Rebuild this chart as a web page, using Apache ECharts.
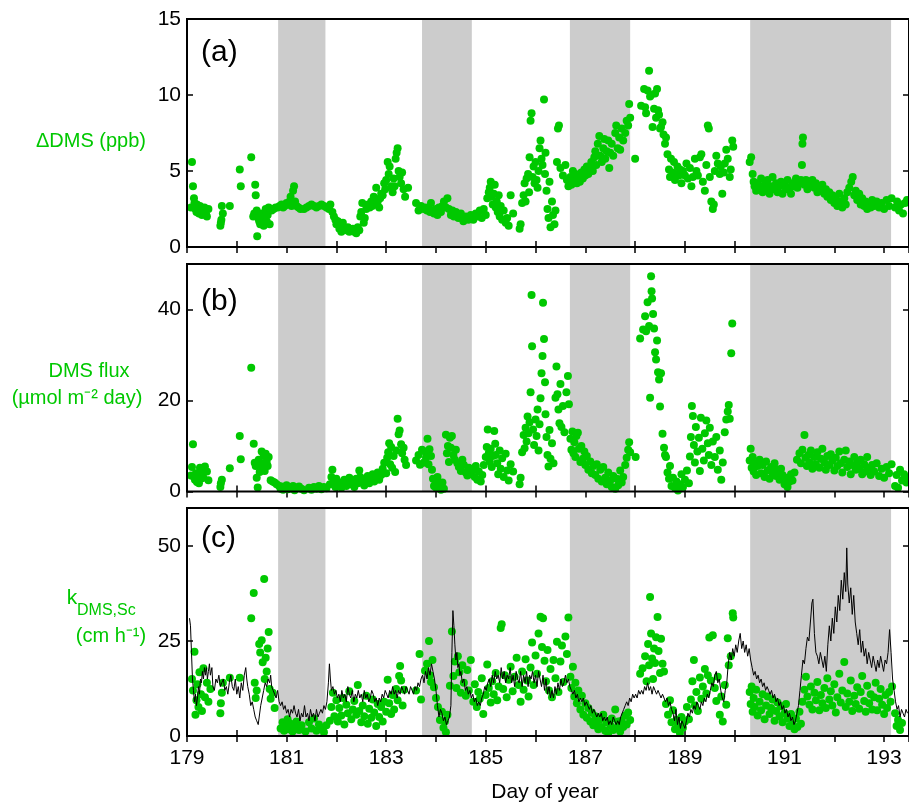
<!DOCTYPE html>
<html>
<head>
<meta charset="utf-8">
<script src="https://cdn.jsdelivr.net/npm/echarts@6/dist/echarts.min.js"></script>
<style>
  html, body { margin: 0; padding: 0; background: #fff; }
  #chart { width: 909px; height: 804px; }
</style>
</head>
<body>
<div id="chart"></div>
<script>
// night periods (grey bands), day of year
var nightBands = [[180.83, 181.78], [183.72, 184.72], [186.69, 187.90], [190.31, 193.14]];

// (a) delta DMS, ppb
var dmsPoints = [
  [179.08,2.6],[179.1,5.6],[179.12,4.0],[179.14,3.2],[179.15,2.9],[179.17,2.5],[179.19,2.3],[179.2,2.8],[179.22,2.6],[179.24,2.2],[179.26,2.7],[179.28,2.5],[179.3,2.1],[179.32,2.4],[179.35,2.6],[179.38,2.2],[179.4,2.0],[179.43,2.5],
  [179.67,1.4],[179.68,1.6],[179.69,1.8],[179.7,2.7],[179.72,2.2],[179.86,2.7],
  [180.06,5.1],[180.08,4.0],[180.29,5.9],
  [180.33,2.0],[180.35,2.2],[180.37,4.1],[180.38,3.4],[180.4,2.4],[180.41,0.7],[180.43,1.9],[180.45,1.7],[180.47,1.5],[180.5,2.2],[180.52,1.8],[180.54,1.4],[180.56,2.0],[180.58,2.5],[180.6,1.7],[180.62,2.1],[180.64,2.6],[180.66,1.5],[180.7,2.4],[180.74,2.5],[180.78,2.6],[180.82,2.6],
  [180.86,2.7],[180.9,2.8],[180.93,2.6],[180.96,2.7],[181.0,2.9],[181.03,2.8],[181.06,3.0],[181.08,3.3],[181.1,2.7],[181.13,3.7],[181.15,4.0],[181.17,3.0],[181.2,2.7],[181.24,2.6],[181.28,2.5],[181.35,2.5],[181.4,2.6],[181.45,2.7],[181.5,2.8],[181.55,2.7],[181.6,2.6],[181.65,2.7],[181.7,2.8],[181.75,2.7],[181.8,2.6],
  [181.85,2.5],[181.88,2.8],[181.92,2.3],[181.95,2.0],[181.98,1.8],[182.0,1.5],[182.03,1.7],[182.06,1.2],[182.08,1.4],[182.1,1.0],[182.13,1.6],[182.16,1.2],[182.2,1.1],[182.23,1.3],[182.26,1.0],[182.3,1.1],[182.33,1.2],[182.36,1.0],[182.4,0.9],[182.43,1.3],[182.46,1.1],[182.48,2.0],[182.5,2.3],[182.52,2.9],[182.55,1.6],[182.57,1.9],[182.6,2.5],[182.64,2.8],[182.67,2.6],[182.7,3.0],[182.72,2.7],[182.75,3.3],[182.78,2.8],[182.8,3.9],[182.83,3.0],[182.86,2.6],[182.88,3.2],[182.9,3.5],[182.93,3.4],[182.96,4.2],[182.98,3.8],[183.0,4.4],[183.03,5.6],[183.05,4.8],[183.07,5.3],[183.1,4.0],[183.13,3.6],[183.15,4.5],[183.17,4.0],[183.19,5.8],[183.21,6.2],[183.23,6.5],[183.25,5.0],[183.27,4.6],[183.3,4.2],[183.32,4.9],[183.35,3.8],[183.38,3.3],[183.44,3.9],
  [183.6,2.9],[183.65,2.4],[183.7,2.7],
  [183.75,2.5],[183.78,2.6],[183.82,2.4],[183.85,2.6],[183.88,2.3],[183.9,2.9],[183.93,2.4],[183.96,2.2],[184.0,2.5],[184.03,2.1],[184.06,2.6],[184.1,2.3],[184.13,2.7],[184.16,3.0],[184.2,2.6],[184.23,3.2],[184.26,2.5],[184.3,2.1],[184.33,2.4],[184.36,2.0],[184.4,2.3],[184.45,1.9],[184.5,2.2],[184.55,1.7],[184.6,2.0],[184.65,1.8],[184.7,2.1],
  [184.75,1.8],[184.8,2.2],[184.84,2.0],[184.88,2.4],[184.92,1.9],[184.96,2.5],[185.0,2.1],[185.03,3.2],[185.06,3.6],[185.08,3.9],[185.1,4.3],[185.12,3.3],[185.14,2.8],[185.16,3.5],[185.18,4.1],[185.2,2.6],[185.22,3.0],[185.24,2.3],[185.26,3.4],[185.28,2.0],[185.3,2.7],[185.33,1.8],[185.36,2.4],[185.4,1.6],[185.43,1.9],[185.46,1.4],[185.5,3.4],[185.55,2.2],
  [185.68,1.2],[185.7,1.5],[185.73,2.9],[185.76,3.4],[185.78,4.2],[185.8,3.0],[185.82,4.5],[185.85,4.8],[185.87,3.6],[185.88,5.9],[185.9,8.3],[185.92,8.8],[185.94,4.6],[185.96,5.3],[185.98,4.2],[186.0,5.6],[186.02,4.4],[186.04,3.9],[186.06,5.0],[186.08,6.5],[186.1,7.0],[186.12,5.8],[186.14,5.4],[186.17,9.7],[186.19,4.8],[186.2,6.2],[186.22,3.7],[186.24,2.5],[186.26,1.9],[186.28,4.3],[186.3,1.3],[186.33,3.0],[186.35,2.1],[186.38,1.5],[186.4,2.4],[186.43,5.6],[186.45,7.8],[186.47,8.0],[186.5,5.2],[186.55,4.7],[186.6,5.4],[186.63,4.4],[186.66,4.0],
  [186.7,4.6],[186.72,4.1],[186.75,5.0],[186.78,4.4],[186.8,4.8],[186.83,4.2],[186.86,4.7],[186.89,4.3],[186.92,4.9],[186.95,4.5],[186.98,5.1],[187.0,4.7],[187.03,5.3],[187.06,4.8],[187.09,5.2],[187.12,5.6],[187.15,5.0],[187.18,5.9],[187.2,6.3],[187.22,5.4],[187.25,6.8],[187.28,7.3],[187.3,6.0],[187.33,5.6],[187.36,6.5],[187.38,7.1],[187.4,5.8],[187.43,6.3],[187.46,7.0],[187.48,5.2],[187.5,6.2],[187.53,6.8],[187.56,6.0],[187.6,7.5],[187.62,8.0],[187.65,6.5],[187.68,7.2],[187.7,6.4],[187.73,7.8],[187.76,7.0],[187.8,7.5],[187.83,8.3],[187.86,8.0],[187.88,9.4],[187.9,8.5],
  [188.0,5.8],[188.12,9.3],[188.18,10.4],[188.2,9.2],[188.22,8.8],[188.25,10.3],[188.28,11.6],[188.3,9.9],[188.32,10.0],[188.35,7.9],[188.38,9.1],[188.4,10.1],[188.42,8.5],[188.44,10.4],[188.46,9.0],[188.48,8.7],[188.5,7.8],[188.52,7.9],[188.55,8.2],[188.57,7.4],[188.6,6.8],[188.62,7.2],[188.65,6.1],[188.68,5.1],[188.7,4.6],[188.72,5.8],[188.75,4.9],[188.78,5.6],[188.8,4.4],[188.82,4.8],[188.85,5.3],[188.88,4.7],[188.9,5.1],[188.93,4.2],[188.96,5.0],[189.0,4.7],[189.03,5.5],[189.06,4.5],[189.1,5.2],[189.13,4.0],[189.16,4.6],[189.2,5.8],[189.23,5.0],[189.26,4.7],[189.3,5.9],[189.33,6.1],[189.36,4.3],[189.4,3.7],[189.43,5.4],[189.46,8.0],[189.48,7.8],[189.5,4.6],[189.53,3.0],[189.56,2.5],[189.58,2.8],[189.6,5.0],[189.63,6.0],[189.66,5.5],[189.7,4.8],[189.72,5.3],[189.75,3.5],[189.78,4.9],[189.8,5.5],[189.83,6.4],[189.86,5.8],[189.9,4.6],[189.92,5.1],[189.95,7.0],[189.97,6.6],
  [190.3,5.6],[190.33,5.9],[190.36,4.8],[190.38,4.3],[190.4,4.0],[190.43,3.7],[190.46,4.2],[190.5,3.9],[190.53,4.5],[190.56,3.6],[190.6,4.1],[190.63,3.8],[190.66,4.4],[190.7,3.5],[190.73,4.0],[190.76,4.6],[190.8,3.8],[190.83,4.2],[190.86,3.6],[190.9,4.0],[190.93,4.3],[190.96,3.5],[191.0,4.1],[191.03,3.8],[191.06,4.4],[191.1,3.9],[191.13,3.5],[191.16,4.2],[191.2,4.0],[191.23,4.5],[191.26,3.9],[191.3,4.2],[191.33,4.4],[191.35,5.4],[191.36,6.8],[191.37,7.2],[191.4,4.1],[191.43,4.4],[191.46,3.8],[191.5,4.3],[191.53,4.0],[191.56,4.4],[191.6,3.9],[191.63,4.2],[191.66,3.6],[191.7,4.0],[191.73,3.7],[191.76,4.1],[191.8,3.5],[191.83,3.8],[191.86,3.3],[191.9,3.6],[191.93,3.1],[191.96,3.4],[192.0,2.9],[192.03,3.3],[192.06,2.7],[192.1,3.5],[192.13,3.0],[192.16,2.6],[192.2,3.2],[192.23,2.8],[192.26,3.6],[192.3,3.9],[192.34,4.3],[192.37,4.6],[192.4,3.4],[192.43,3.7],[192.46,3.1],[192.5,3.5],[192.53,2.8],[192.56,3.2],[192.6,2.7],[192.63,3.0],[192.66,2.5],[192.7,2.9],[192.73,2.6],[192.76,3.1],[192.8,2.7],[192.85,3.0],[192.9,2.6],[192.95,2.9],[193.0,2.5],[193.05,3.1],[193.1,2.7],[193.15,3.2],
  [193.22,2.6],[193.26,3.0],[193.3,2.4],[193.34,2.8],[193.38,2.2],[193.42,2.9],[193.46,3.1]
];

// (b) DMS flux, umol m-2 day-1
var fluxPoints = [
  [179.08,3.5],[179.1,5.4],[179.12,10.4],[179.14,3.2],[179.16,2.6],[179.18,4.0],[179.2,2.1],[179.22,3.6],[179.24,1.8],[179.26,5.2],[179.28,2.8],[179.3,4.6],[179.33,3.0],[179.36,5.5],[179.4,4.4],[179.43,2.5],
  [179.67,1.0],[179.68,1.8],[179.7,2.6],[179.86,5.1],
  [180.06,12.2],[180.08,7.1],[180.29,27.2],[180.34,10.5],
  [180.36,6.3],[180.38,5.6],[180.4,3.0],[180.42,0.9],[180.44,7.0],[180.46,4.3],[180.48,6.2],[180.5,8.8],[180.52,5.0],[180.54,7.8],[180.56,4.5],[180.58,8.3],[180.6,6.5],[180.62,5.6],[180.64,7.6],[180.68,2.5],[180.72,2.2],[180.76,2.0],[180.8,1.6],
  [180.85,1.2],[180.88,0.6],[180.9,1.1],[180.93,0.4],[180.96,0.9],[181.0,1.4],[181.03,0.5],[181.06,1.0],[181.1,0.7],[181.13,1.2],[181.16,0.3],[181.2,0.8],[181.25,1.1],[181.3,0.6],[181.35,0.3],[181.45,0.8],[181.5,0.4],[181.55,1.0],[181.6,0.6],[181.65,1.2],[181.7,0.5],[181.75,1.0],[181.8,0.7],
  [181.87,1.6],[181.9,3.2],[181.92,4.8],[181.95,2.2],[181.98,1.0],[182.0,2.8],[182.03,1.5],[182.06,2.0],[182.1,0.8],[182.13,1.8],[182.16,2.6],[182.2,1.2],[182.23,2.2],[182.26,3.0],[182.3,1.6],[182.33,2.4],[182.36,1.0],[182.4,2.8],[182.43,1.8],[182.46,4.6],[182.48,3.2],[182.5,2.0],[182.53,2.6],[182.56,1.3],[182.6,2.4],[182.63,3.4],[182.66,1.8],[182.7,2.8],[182.73,3.8],[182.76,2.2],[182.8,3.4],[182.83,4.2],[182.86,2.6],[182.9,3.6],[182.93,5.0],[182.96,6.3],[183.0,4.0],[183.02,7.4],[183.04,8.6],[183.06,10.6],[183.08,6.0],[183.1,9.8],[183.12,5.2],[183.15,7.8],[183.18,4.3],[183.2,9.0],[183.23,16.0],[183.25,12.6],[183.27,13.4],[183.3,10.4],[183.32,8.4],[183.35,9.6],[183.37,7.0],[183.4,5.8],
  [183.6,6.8],[183.65,8.0],[183.68,5.9],[183.72,9.2],
  [183.75,6.3],[183.78,8.8],[183.8,7.4],[183.83,11.6],[183.85,6.0],[183.87,9.3],[183.9,7.8],[183.92,4.8],[183.94,2.8],[183.96,1.2],[183.98,2.6],[184.0,0.9],[184.03,3.2],[184.06,1.8],[184.1,0.4],[184.13,2.0],[184.16,0.6],[184.2,12.5],[184.22,8.4],[184.24,10.0],[184.26,6.5],[184.28,11.8],[184.3,9.6],[184.32,12.2],[184.35,8.0],[184.38,7.0],[184.4,9.2],[184.43,6.2],[184.46,5.4],[184.5,4.5],[184.53,7.0],[184.56,5.8],[184.6,4.2],[184.63,3.5],[184.66,5.2],[184.7,3.8],
  [184.75,4.8],[184.78,3.2],[184.8,5.6],[184.83,2.6],[184.86,4.4],[184.9,2.2],[184.93,3.6],[184.96,5.8],[185.0,7.6],[185.02,9.8],[185.04,13.6],[185.06,8.4],[185.08,6.6],[185.1,9.4],[185.12,5.4],[185.14,7.8],[185.17,13.3],[185.19,10.5],[185.2,8.0],[185.23,6.2],[185.25,3.8],[185.28,9.0],[185.3,5.0],[185.33,7.3],[185.36,3.2],[185.4,8.3],[185.43,4.6],[185.46,2.4],[185.5,6.0],[185.55,4.4],
  [185.68,1.6],[185.7,3.0],[185.73,8.6],[185.76,12.4],[185.78,9.5],[185.8,14.0],[185.82,11.0],[185.84,16.5],[185.86,12.8],[185.88,15.2],[185.9,21.8],[185.92,43.2],[185.93,31.9],[185.95,13.6],[185.97,10.2],[186.0,15.8],[186.02,12.2],[186.04,18.0],[186.06,9.0],[186.08,14.8],[186.1,20.5],[186.12,26.0],[186.14,29.8],[186.15,41.5],[186.17,33.5],[186.19,24.0],[186.2,17.0],[186.22,12.0],[186.24,8.0],[186.26,5.5],[186.28,13.5],[186.3,7.2],[186.33,10.6],[186.36,6.2],[186.4,20.6],[186.42,27.5],[186.44,21.4],[186.46,18.0],[186.48,15.0],[186.5,23.6],[186.52,14.2],[186.55,18.8],[186.58,13.0],[186.62,21.8],[186.65,25.4],[186.67,19.2],
  [186.7,11.6],[186.72,9.2],[186.74,13.2],[186.76,8.4],[186.78,10.8],[186.8,7.6],[186.82,12.2],[186.85,12.9],[186.87,9.4],[186.9,6.5],[186.92,10.0],[186.95,7.2],[186.98,8.8],[187.0,5.8],[187.03,7.8],[187.06,4.8],[187.1,6.6],[187.13,4.0],[187.16,5.6],[187.2,3.6],[187.23,6.0],[187.26,2.8],[187.3,4.8],[187.33,2.2],[187.36,5.4],[187.4,3.0],[187.43,1.6],[187.46,4.2],[187.5,2.4],[187.53,1.0],[187.56,3.4],[187.6,0.6],[187.63,2.8],[187.66,1.4],[187.7,4.6],[187.73,2.0],[187.76,3.2],[187.8,5.8],[187.83,7.4],[187.86,9.2],[187.88,10.8],[187.9,8.6],
  [188.01,7.6],[188.1,33.6],[188.16,35.6],[188.2,38.5],[188.22,35.2],[188.25,41.6],[188.28,36.4],[188.3,20.6],[188.32,47.3],[188.33,44.0],[188.34,42.4],[188.36,39.0],[188.38,35.8],[188.4,30.6],[188.42,29.0],[188.44,33.2],[188.46,26.2],[188.48,24.6],[188.5,18.7],[188.52,26.0],[188.55,12.7],[188.58,9.6],[188.6,8.0],[188.62,7.6],[188.65,4.2],[188.68,2.8],[188.7,5.6],[188.73,1.2],[188.76,3.0],[188.8,0.8],[188.83,2.2],[188.86,0.2],[188.9,1.6],[188.93,3.8],[188.96,1.0],[189.0,2.6],[189.04,4.6],[189.08,1.8],[189.1,7.7],[189.12,12.0],[189.14,18.8],[189.16,16.6],[189.18,10.2],[189.2,6.4],[189.22,14.2],[189.25,8.8],[189.28,11.8],[189.3,4.5],[189.32,16.2],[189.35,9.4],[189.38,6.8],[189.4,12.8],[189.43,15.6],[189.46,10.6],[189.48,8.0],[189.5,14.0],[189.53,5.8],[189.56,11.0],[189.6,7.6],[189.63,12.0],[189.66,4.8],[189.7,9.0],[189.73,2.6],[189.76,6.4],[189.8,13.0],[189.83,15.8],[189.86,17.6],[189.88,19.0],[189.9,16.0],[189.93,30.4],[189.95,36.9],
  [190.3,6.8],[190.32,9.4],[190.34,5.2],[190.36,7.6],[190.38,4.4],[190.4,6.2],[190.43,3.6],[190.46,5.6],[190.5,7.0],[190.53,4.0],[190.56,5.8],[190.6,3.2],[190.63,6.6],[190.66,4.6],[190.7,2.8],[190.73,5.4],[190.76,4.0],[190.8,6.2],[190.83,3.4],[190.86,4.8],[190.9,2.6],[190.93,5.0],[190.96,3.6],[191.0,1.6],[191.03,3.0],[191.06,1.0],[191.1,2.2],[191.13,3.8],[191.16,2.4],[191.2,4.2],[191.25,7.0],[191.3,8.4],[191.33,6.2],[191.36,9.2],[191.4,12.4],[191.42,7.4],[191.45,5.6],[191.48,8.0],[191.5,6.4],[191.53,9.0],[191.56,5.0],[191.6,7.6],[191.63,6.0],[191.66,8.6],[191.7,5.2],[191.73,7.2],[191.76,9.4],[191.8,6.4],[191.83,4.8],[191.86,7.8],[191.9,5.8],[191.93,8.2],[191.96,6.8],[192.0,4.6],[192.03,7.4],[192.06,5.6],[192.1,8.8],[192.13,6.2],[192.16,4.2],[192.2,7.0],[192.23,9.0],[192.26,5.4],[192.3,6.6],[192.33,3.8],[192.36,5.8],[192.4,7.6],[192.43,4.8],[192.46,6.4],[192.5,5.0],[192.53,7.0],[192.56,3.8],[192.6,6.0],[192.63,4.4],[192.66,7.6],[192.7,5.2],[192.73,3.6],[192.76,5.8],[192.8,4.4],[192.85,6.2],[192.9,3.4],[192.95,5.0],[193.0,3.0],[193.05,5.4],[193.1,4.0],[193.15,6.0],
  [193.22,1.2],[193.25,3.6],[193.28,0.8],[193.32,4.8],[193.36,2.4],[193.4,3.8],[193.45,2.0],[193.48,3.0]
];

// (c) k DMS from DMS measurements (points), cm h-1
var kPoints = [
  [179.1,15.0],[179.12,12.0],[179.15,22.2],[179.17,5.6],[179.19,9.4],[179.21,13.6],[179.23,7.6],[179.25,16.8],[179.28,11.0],[179.3,6.6],[179.33,17.8],[179.36,10.2],[179.4,14.0],[179.43,9.0],[179.47,12.4],
  [179.67,6.0],[179.68,8.6],[179.7,11.4],[179.72,14.0],[179.86,15.3],
  [180.06,15.3],[180.29,31.0],[180.34,37.6],[180.36,14.0],[180.38,10.0],[180.4,12.0],[180.45,24.2],[180.47,22.0],[180.5,25.2],[180.52,19.4],[180.55,41.3],[180.56,15.0],[180.58,20.6],[180.6,17.0],[180.62,23.0],[180.64,27.4],[180.66,12.4],[180.68,9.8],[180.72,11.4],[180.76,7.4],
  [180.88,2.0],[180.92,3.6],[180.95,1.4],[180.98,2.6],[181.02,4.4],[181.05,1.8],[181.08,3.2],[181.12,1.2],[181.15,2.6],[181.2,3.8],[181.25,1.6],[181.3,2.8],[181.38,1.2],[181.45,3.6],[181.5,2.0],[181.55,4.6],[181.6,1.4],[181.65,3.0],[181.7,2.2],[181.75,1.0],[181.8,2.8],
  [181.87,4.0],[181.9,7.6],[181.93,11.4],[181.96,5.2],[182.0,9.4],[182.03,3.8],[182.06,7.4],[182.1,5.4],[182.13,10.0],[182.16,3.0],[182.2,8.2],[182.23,6.0],[182.26,11.8],[182.3,4.4],[182.33,7.0],[182.36,9.2],[182.4,5.6],[182.43,13.4],[182.46,6.6],[182.5,3.6],[182.53,8.0],[182.56,5.2],[182.6,10.6],[182.63,3.2],[182.66,7.2],[182.7,4.8],[182.73,9.6],[182.76,6.2],[182.8,2.6],[182.83,8.4],[182.86,5.0],[182.9,7.6],[182.93,3.8],[182.96,9.0],[183.0,6.4],[183.03,14.8],[183.06,8.6],[183.1,5.8],[183.13,10.8],[183.16,7.0],[183.2,12.4],[183.23,9.4],[183.26,15.8],[183.28,18.4],[183.3,14.6],[183.33,8.0],[183.36,12.2],
  [183.6,12.0],[183.67,21.6],[183.7,9.6],
  [183.78,17.2],[183.82,19.0],[183.86,25.0],[183.88,16.0],[183.9,14.2],[183.93,20.0],[183.96,12.8],[184.0,10.0],[184.04,7.6],[184.08,4.2],[184.12,6.4],[184.15,2.2],[184.18,3.8],[184.2,1.0],[184.23,5.6],[184.28,13.2],[184.32,27.5],[184.35,15.8],[184.38,19.6],[184.41,12.6],[184.44,21.0],[184.47,16.8],[184.5,11.4],[184.53,18.6],[184.56,14.0],[184.6,10.6],[184.63,17.4],[184.66,12.0],[184.7,20.0],
  [184.75,9.0],[184.78,13.6],[184.82,7.6],[184.85,11.6],[184.88,9.8],[184.92,15.2],[184.95,5.8],[185.0,10.8],[185.03,18.8],[185.06,12.6],[185.1,8.8],[185.13,14.4],[185.16,11.0],[185.2,16.6],[185.23,9.4],[185.26,13.0],[185.3,28.4],[185.32,29.4],[185.35,12.4],[185.38,16.0],[185.42,10.2],[185.46,14.8],[185.5,18.2],[185.54,11.8],[185.58,15.6],[185.62,20.6],[185.66,13.4],
  [185.7,9.0],[185.73,17.0],[185.76,12.2],[185.8,20.2],[185.83,14.6],[185.86,10.4],[185.9,18.0],[185.93,24.6],[185.96,13.4],[186.0,21.2],[186.03,16.4],[186.06,27.0],[186.1,31.4],[186.13,23.4],[186.15,31.0],[186.18,19.8],[186.21,14.4],[186.24,22.6],[186.27,12.0],[186.3,17.6],[186.33,10.2],[186.36,20.0],[186.4,15.2],[186.43,24.8],[186.46,11.6],[186.5,19.6],[186.53,23.8],[186.56,14.2],[186.6,26.2],[186.63,21.6],[186.66,31.2],
  [186.7,15.6],[186.72,12.6],[186.75,18.2],[186.78,10.4],[186.8,14.0],[186.83,8.6],[186.86,12.0],[186.9,7.0],[186.93,10.6],[186.96,5.6],[187.0,8.6],[187.03,4.8],[187.06,7.4],[187.1,3.8],[187.13,6.2],[187.16,2.8],[187.2,5.2],[187.23,3.4],[187.26,1.8],[187.3,4.4],[187.33,2.4],[187.36,5.6],[187.4,1.4],[187.43,3.6],[187.46,0.8],[187.5,2.8],[187.53,4.6],[187.56,1.6],[187.6,7.0],[187.63,2.2],[187.66,3.8],[187.7,1.2],[187.73,4.0],[187.76,2.4],[187.8,5.4],[187.83,3.0],[187.86,6.2],[187.9,4.2],
  [188.1,16.4],[188.15,17.8],[188.2,21.0],[188.23,14.4],[188.26,24.2],[188.28,18.6],[188.3,36.6],[188.32,27.0],[188.34,20.4],[188.36,15.0],[188.38,23.0],[188.4,19.2],[188.42,26.0],[188.45,31.3],[188.47,22.4],[188.5,16.6],[188.52,25.6],[188.55,19.0],[188.58,17.0],[188.62,8.4],[188.66,5.6],[188.7,9.4],[188.73,3.6],[188.76,6.8],[188.8,1.8],[188.83,4.2],[188.86,2.6],[188.9,0.8],[188.93,5.0],[188.96,2.2],[189.0,3.8],[189.04,7.6],[189.08,4.4],[189.12,9.6],[189.15,14.4],[189.18,20.0],[189.2,8.0],[189.23,11.6],[189.26,6.6],[189.3,15.4],[189.33,9.8],[189.36,13.0],[189.4,17.6],[189.43,11.2],[189.46,16.0],[189.49,25.9],[189.52,14.6],[189.56,26.5],[189.6,12.6],[189.63,9.2],[189.66,15.6],[189.7,5.6],[189.73,10.4],[189.76,3.8],[189.8,13.4],[189.83,8.2],[189.86,25.7],[189.88,18.6],[189.92,21.0],[189.96,32.3],[189.97,31.2],
  [190.3,11.6],[190.32,8.4],[190.34,13.0],[190.36,6.4],[190.38,10.0],[190.4,7.6],[190.43,12.2],[190.46,5.4],[190.5,9.0],[190.53,6.8],[190.56,11.0],[190.6,4.4],[190.63,8.0],[190.66,10.4],[190.7,5.8],[190.73,7.4],[190.76,9.6],[190.8,4.0],[190.83,6.6],[190.86,8.8],[190.9,5.2],[190.93,7.8],[190.96,3.6],[191.0,6.0],[191.03,8.4],[191.06,4.6],[191.1,2.6],[191.13,5.8],[191.16,3.0],[191.2,1.8],[191.23,4.6],[191.26,2.4],[191.3,6.4],[191.33,3.2],[191.36,9.0],[191.4,12.2],[191.43,15.6],[191.46,10.4],[191.5,8.2],[191.53,13.0],[191.56,7.0],[191.6,11.4],[191.63,9.4],[191.66,14.2],[191.7,6.8],[191.73,10.8],[191.76,8.6],[191.8,12.6],[191.83,7.4],[191.86,15.2],[191.9,9.6],[191.93,11.8],[191.96,8.0],[192.0,13.6],[192.03,6.2],[192.06,10.2],[192.1,16.4],[192.13,8.8],[192.16,12.0],[192.2,19.5],[192.23,7.6],[192.26,11.2],[192.3,9.0],[192.33,14.6],[192.36,6.6],[192.4,10.6],[192.43,8.4],[192.46,12.8],[192.5,7.2],[192.53,11.6],[192.56,15.8],[192.6,9.2],[192.63,6.4],[192.66,13.2],[192.7,8.6],[192.73,11.0],[192.76,7.0],[192.8,10.2],[192.83,14.0],[192.86,6.8],[192.9,9.8],[192.93,12.4],[192.96,8.2],[193.0,5.8],[193.03,10.8],[193.06,7.4],[193.1,11.6],[193.13,9.0],[193.16,13.0],
  [193.22,6.0],[193.25,2.6],[193.28,4.2],[193.32,1.6],[193.36,3.4]
];

// (c) k DMS from wind parameterisation (black line)
var kLine = [
  [179.05,31],[179.07,29],[179.09,22],[179.11,15],[179.13,12],[179.15,9],[179.17,11],[179.19,8],[179.21,10],[179.23,13],[179.25,11],[179.27,15],[179.29,14],[179.31,17],[179.33,15],[179.35,18],[179.37,16],[179.39,18],[179.41,15],[179.43,17],[179.45,19],[179.47,16],[179.5,18],[179.52,13],[179.55,12],[179.58,15],[179.61,14],[179.64,16],[179.67,13],[179.7,14],[179.73,15],[179.76,12],[179.79,13],[179.82,11],[179.85,14],[179.88,16],[179.91,13],[179.94,12],[179.97,15],
  [180.0,11],[180.03,13],[180.06,10],[180.09,14],[180.12,12],[180.15,16],[180.18,18],[180.2,15],[180.22,13],[180.25,11],[180.28,8],[180.31,9],[180.34,7],[180.37,5],[180.4,4],[180.43,3],[180.45,5],[180.48,8],[180.51,10],[180.54,12],[180.57,14],[180.6,13],[180.63,15],[180.66,14],[180.68,16],[180.7,13],[180.73,12],[180.76,11],[180.79,10],[180.82,12],[180.85,9],[180.88,8],[180.91,9],[180.94,7],[180.97,8],
  [181.0,6],[181.03,7],[181.06,5],[181.09,7],[181.12,6],[181.15,8],[181.18,6],[181.21,5],[181.24,7],[181.27,4],[181.3,6],[181.33,5],[181.36,8],[181.39,5],[181.42,6],[181.45,4],[181.48,7],[181.51,5],[181.54,6],[181.57,4],[181.6,7],[181.63,5],[181.66,6],[181.69,7],[181.72,6],[181.75,8],[181.78,7],[181.81,9],[181.84,14],[181.86,19],[181.88,15],[181.9,12],[181.93,13],[181.96,11],[181.99,12],
  [182.02,10],[182.05,11],[182.08,9],[182.11,12],[182.14,10],[182.17,11],[182.2,9],[182.23,13],[182.26,11],[182.29,10],[182.32,12],[182.35,9],[182.38,11],[182.41,10],[182.44,12],[182.47,10],[182.5,11],[182.53,9],[182.56,12],[182.59,10],[182.62,11],[182.65,9],[182.68,10],[182.71,12],[182.74,11],[182.77,9],[182.8,10],[182.83,8],[182.86,10],[182.89,9],[182.92,11],[182.95,10],[182.98,12],
  [183.01,11],[183.04,10],[183.07,12],[183.1,11],[183.13,13],[183.16,11],[183.19,12],[183.22,10],[183.25,12],[183.28,11],[183.31,13],[183.34,12],[183.37,11],[183.4,13],[183.43,12],[183.46,11],[183.49,13],[183.52,12],[183.55,11],[183.58,13],[183.61,12],[183.64,14],[183.67,13],[183.7,15],[183.73,16],[183.76,14],[183.79,17],[183.82,15],[183.85,18],[183.88,16],[183.91,19],[183.94,17],[183.97,15],
  [184.0,12],[184.03,8],[184.06,5],[184.09,7],[184.12,6],[184.15,4],[184.18,5],[184.21,3],[184.24,4],[184.27,5],[184.3,8],[184.32,22],[184.34,33],[184.36,29],[184.38,24],[184.4,20],[184.42,22],[184.44,18],[184.46,19],[184.48,16],[184.5,17],[184.53,14],[184.56,15],[184.59,12],[184.62,13],[184.65,11],[184.68,12],[184.71,10],[184.74,11],[184.77,9],[184.8,10],[184.83,8],[184.86,9],[184.89,8],[184.92,10],[184.95,11],[184.98,13],
  [185.01,12],[185.04,14],[185.07,15],[185.1,13],[185.13,16],[185.16,14],[185.19,17],[185.22,15],[185.25,16],[185.28,14],[185.31,18],[185.34,15],[185.37,17],[185.4,14],[185.43,16],[185.46,15],[185.49,18],[185.52,14],[185.55,16],[185.58,13],[185.61,17],[185.64,15],[185.67,14],[185.7,17],[185.73,13],[185.76,16],[185.79,14],[185.82,17],[185.85,13],[185.88,16],[185.91,15],[185.94,17],[185.97,14],
  [186.0,16],[186.03,13],[186.06,17],[186.09,15],[186.12,13],[186.15,16],[186.18,12],[186.21,15],[186.24,11],[186.27,13],[186.3,10],[186.33,12],[186.36,10],[186.39,13],[186.42,11],[186.45,14],[186.48,12],[186.51,15],[186.54,13],[186.57,14],[186.6,16],[186.63,14],[186.66,15],[186.69,13],[186.72,12],[186.75,11],[186.78,12],[186.81,10],[186.84,11],[186.87,9],[186.9,10],[186.93,9],[186.96,10],[186.99,8],
  [187.02,9],[187.05,8],[187.08,7],[187.11,8],[187.14,6],[187.17,7],[187.2,6],[187.23,5],[187.26,6],[187.29,5],[187.32,6],[187.35,4],[187.38,5],[187.41,4],[187.44,5],[187.47,3],[187.5,4],[187.53,3],[187.56,5],[187.59,4],[187.62,3],[187.65,4],[187.68,3],[187.71,5],[187.74,6],[187.77,7],[187.8,8],[187.83,9],[187.86,8],[187.89,10],[187.92,9],[187.95,11],[187.98,10],
  [188.01,11],[188.04,10],[188.07,12],[188.1,11],[188.13,12],[188.16,11],[188.19,13],[188.22,12],[188.25,14],[188.28,12],[188.31,13],[188.34,11],[188.37,13],[188.4,12],[188.43,11],[188.46,12],[188.49,11],[188.52,10],[188.55,11],[188.58,10],[188.61,9],[188.64,10],[188.67,8],[188.7,9],[188.73,7],[188.76,6],[188.79,4],[188.82,7],[188.85,3],[188.88,5],[188.91,2],[188.94,4],[188.97,3],
  [189.0,2],[189.03,4],[189.06,6],[189.09,5],[189.12,7],[189.15,6],[189.18,8],[189.21,7],[189.24,9],[189.27,8],[189.3,7],[189.33,9],[189.36,8],[189.39,10],[189.42,9],[189.45,11],[189.48,10],[189.51,12],[189.54,14],[189.57,13],[189.6,16],[189.63,17],[189.66,14],[189.69,15],[189.72,12],[189.75,10],[189.78,9],[189.81,12],[189.84,14],[189.87,19],[189.9,22],[189.93,20],[189.96,23],[189.99,21],
  [190.02,24],[190.05,22],[190.08,25],[190.11,27],[190.14,23],[190.17,25],[190.2,22],[190.23,24],[190.26,21],[190.29,23],[190.32,20],[190.35,18],[190.38,16],[190.41,17],[190.44,15],[190.47,16],[190.5,14],[190.53,15],[190.56,13],[190.59,14],[190.62,12],[190.65,13],[190.68,12],[190.71,11],[190.74,12],[190.77,10],[190.8,11],[190.83,9],[190.86,10],[190.89,8],[190.92,9],[190.95,7],[190.98,8],
  [191.01,6],[191.04,7],[191.07,5],[191.1,6],[191.13,4],[191.16,5],[191.19,3],[191.22,4],[191.25,6],[191.28,8],[191.31,12],[191.34,16],[191.37,20],[191.4,19],[191.43,23],[191.46,26],[191.49,25],[191.52,30],[191.55,35],[191.57,36],[191.6,27],[191.63,22],[191.66,21],[191.69,19],[191.72,22],[191.75,20],[191.78,18],[191.81,21],[191.84,17],[191.87,24],[191.9,29],[191.93,25],[191.96,31],[191.99,27],
  [192.02,34],[192.05,30],[192.08,37],[192.11,33],[192.14,41],[192.17,36],[192.2,43],[192.23,38],[192.25,49.5],[192.27,40],[192.3,35],[192.33,39],[192.36,32],[192.39,37],[192.42,30],[192.45,27],[192.48,24],[192.51,28],[192.54,22],[192.57,25],[192.6,21],[192.63,23],[192.66,19],[192.69,22],[192.72,20],[192.75,18],[192.78,21],[192.81,19],[192.84,17],[192.87,20],[192.9,18],[192.93,21],[192.96,19],[192.99,17],
  [193.02,20],[193.05,19],[193.08,22],[193.11,28],[193.14,22],[193.17,15],[193.2,12],[193.23,9],[193.26,7],[193.29,8],[193.32,5],[193.35,7],[193.38,6],[193.41,5],[193.44,7],[193.47,6]
];

var panelLetters = ['(a)', '(b)', '(c)'];
var yMax = [15, 50, 60];
var yStep = [5, 20, 25];

var green = '#00c800';
var fontFamily = 'Liberation Sans, Arial, Helvetica, sans-serif';

var grids = [
  { left: 187, width: 724, top: 19, height: 228 },
  { left: 187, width: 724, top: 264, height: 227.5 },
  { left: 187, width: 724, top: 508, height: 228 }
];

var xAxes = [];
var yAxes = [];
grids.forEach(function (g, i) {
  g.show = true;
  g.borderColor = '#000';
  g.borderWidth = 2;
  g.z = 10;
  ['bottom', 'top'].forEach(function (pos) {
    xAxes.push({
      gridIndex: i,
      type: 'value',
      position: pos,
      min: 179,
      max: 193.5,
      interval: 1,
      z: 0,
      axisLine: { show: false },
      axisTick: { show: true, inside: true, length: 6, lineStyle: { color: '#000', width: 1.5 } },
      splitLine: { show: false },
      axisLabel: {
        show: i === 2 && pos === 'bottom',
        margin: 12,
        color: '#000',
        fontSize: 21,
        fontFamily: fontFamily,
        showMaxLabel: false,
        formatter: function (v) { return (v % 2 === 1) ? String(v) : ''; }
      }
    });
  });
  ['left', 'right'].forEach(function (pos) {
    yAxes.push({
      gridIndex: i,
      type: 'value',
      position: pos,
      min: 0,
      max: yMax[i],
      interval: yStep[i],
      z: 0,
      axisLine: { show: false },
      axisTick: { show: true, inside: true, length: 6, lineStyle: { color: '#000', width: 1.5 } },
      splitLine: { show: false },
      axisLabel: {
        show: pos === 'left',
        margin: 6,
        color: '#000',
        fontSize: 21,
        fontFamily: fontFamily,
        showMaxLabel: i === 0
      }
    });
  });
});

var bandData = nightBands.map(function (b) {
  return [{ xAxis: b[0] }, { xAxis: b[1] }];
});

var series = [];
[dmsPoints, fluxPoints, kPoints].forEach(function (pts, i) {
  series.push({
    type: 'line',
    xAxisIndex: i * 2,
    yAxisIndex: i * 2,
    data: [],
    z: 3,
    silent: true,
    markArea: {
      silent: true,
      itemStyle: { color: '#cccccc', opacity: 1 },
      data: bandData
    }
  });
  series.push({
    type: 'scatter',
    xAxisIndex: i * 2,
    yAxisIndex: i * 2,
    symbol: 'circle',
    symbolSize: 8,
    z: 4,
    itemStyle: { color: green, opacity: 1 },
    data: pts
  });
});
series.push({
  type: 'line',
  xAxisIndex: 4,
  yAxisIndex: 4,
  showSymbol: false,
  symbol: 'none',
  z: 5,
  lineStyle: { color: '#000', width: 1 },
  data: kLine
});

var graphics = [];
panelLetters.forEach(function (t, i) {
  graphics.push({
    type: 'text', left: 201, top: [38, 287, 524][i],
    style: { text: t, fontSize: 30, fontFamily: fontFamily, fill: '#000' }
  });
});
var yNames = [
  { text: 'ΔDMS (ppb)', x: 91, y: 141, size: 20 },
  { text: 'DMS flux', x: 89, y: 371, size: 20 },
  { text: '(µmol m⁻² day)', x: 77, y: 398, size: 20 },
  { text: 'k', x: 72, y: 598, size: 21 },
  { text: '(cm h⁻¹)', x: 111, y: 636, size: 20 }
];
yNames.forEach(function (n) {
  graphics.push({
    type: 'text', x: n.x, y: n.y,
    style: { text: n.text, fontSize: n.size, fontFamily: fontFamily, fill: green, textAlign: 'center', textVerticalAlign: 'middle' }
  });
});
graphics.push({
  type: 'text', x: 77, y: 611,
  style: { text: 'DMS,Sc', fontSize: 16, fontFamily: fontFamily, fill: green, textAlign: 'left', textVerticalAlign: 'middle' }
});
graphics.push({
  type: 'text', x: 545, y: 792,
  style: { text: 'Day of year', fontSize: 21, fontFamily: fontFamily, fill: '#000', textAlign: 'center', textVerticalAlign: 'middle' }
});

var option = {
  backgroundColor: '#fff',
  animation: false,
  grid: grids,
  xAxis: xAxes,
  yAxis: yAxes,
  series: series,
  graphic: graphics
};

var myChart = echarts.init(document.getElementById('chart'), null, { renderer: 'canvas' });
myChart.setOption(option);
</script>
</body>
</html>
